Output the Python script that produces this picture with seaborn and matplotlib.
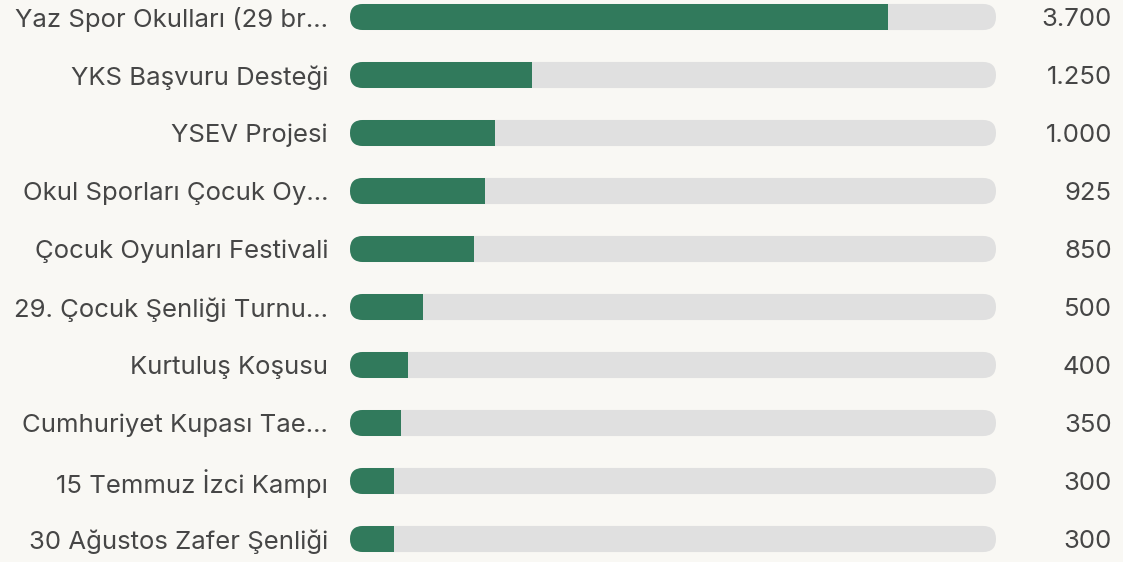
import numpy as np
import pandas as pd
import matplotlib.pyplot as plt
import seaborn as sns
from matplotlib.patches import FancyBboxPatch

labels = ['Yaz Spor Okulları (29 br…', 'YKS Başvuru Desteği', 'YSEV Projesi',
          'Okul Sporları Çocuk Oy…', 'Çocuk Oyunları Festivali',
          '29. Çocuk Şenliği Turnu…', 'Kurtuluş Koşusu',
          'Cumhuriyet Kupası Tae…', '15 Temmuz İzci Kampı',
          '30 Ağustos Zafer Şenliği']
values = [3700, 1250, 1000, 925, 850, 500, 400, 350, 300, 300]

green = '#317a5c'
track = '#e0e0e0'
bg = '#f9f8f4'
txt = '#464646'

scale_max = max(values) * 1.2
df = pd.DataFrame({'label': labels, 'value': values, 'track': scale_max})

sns.set_style('white')
plt.rcParams['font.family'] = ['Inter', 'DejaVu Sans']

fig = plt.figure(figsize=(11.23, 5.62), dpi=100, facecolor=bg)
ax = fig.add_axes([350 / 1123, 0, 646 / 1123, 1])
ax.set_facecolor(bg)

sns.barplot(data=df, x='track', y='label', color=track, width=0.45,
            saturation=1, linewidth=0, ax=ax, orient='h')
n_track = len(ax.patches)
sns.barplot(data=df, x='value', y='label', color=green, width=0.45,
            saturation=1, linewidth=0, ax=ax, orient='h')

ax.set_xlim(0, scale_max)
row_px = 58
ax.set_ylim((562 - 17) / row_px, -17 / row_px)

# px -> data units, for pill-shaped tracks
x_per_px = scale_max / 646
y_per_px = 1 / row_px
r_px = 13

tracks = list(ax.patches[:n_track])
fills = list(ax.patches[n_track:])
for t, f in zip(tracks, fills):
    x0, y0 = t.get_x(), t.get_y()
    w, h = t.get_width(), t.get_height()
    rounded = FancyBboxPatch((x0, y0), w, h,
                             boxstyle=f'round,pad=0,rounding_size={r_px * x_per_px}',
                             mutation_aspect=y_per_px / x_per_px,
                             facecolor=track, edgecolor='none', zorder=1)
    t.remove()
    ax.add_patch(rounded)
    f.set_zorder(2)
    f.set_edgecolor('none')
    f.set_clip_path(rounded)

for i, v in enumerate(values):
    ax.text((1112 - 350) / 646, i, f'{v:,}'.replace(',', '.'),
            transform=ax.get_yaxis_transform(), ha='right', va='center_baseline',
            fontsize=18.5, color=txt)

ax.set_xlabel('')
ax.set_ylabel('')
ax.set_xticks([])
ax.tick_params(axis='y', length=0, pad=15.8, labelsize=18.5, labelcolor=txt)
for lab in ax.get_yticklabels():
    lab.set_verticalalignment('center_baseline')
sns.despine(ax=ax, left=True, bottom=True)

fig.savefig('out.png', dpi=100, facecolor=bg)
